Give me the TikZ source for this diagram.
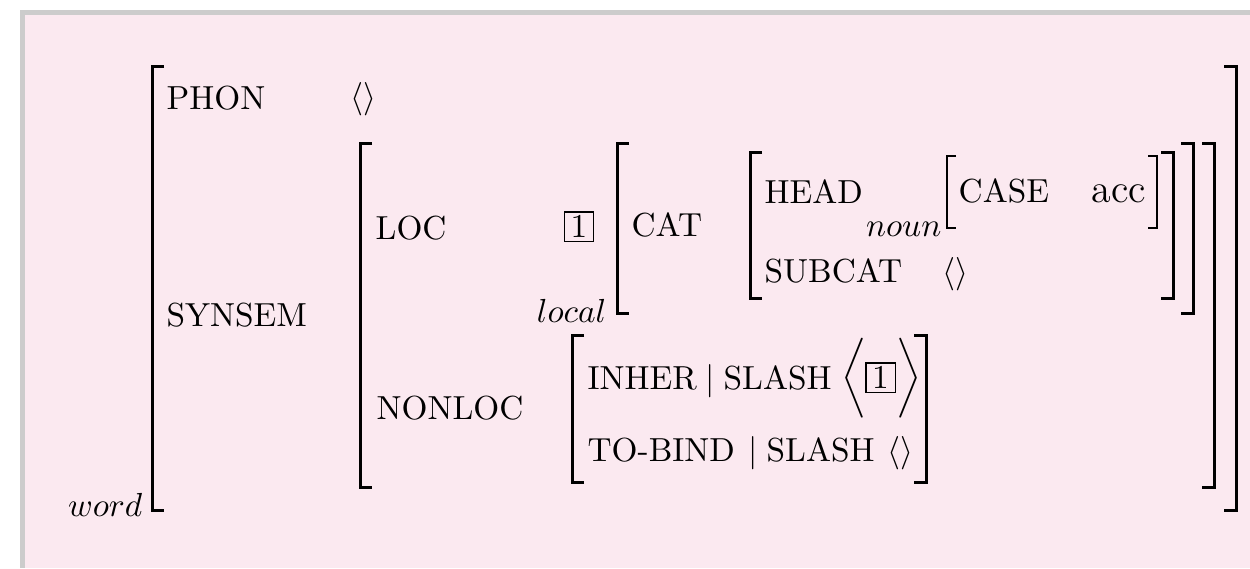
\documentclass[tikz,border=0pt]{standalone}
\usepackage{amsmath}
\usepackage{amssymb}
\usepackage{tikz}

\definecolor{framegray}{RGB}{204,204,204}
\definecolor{boxpink}{RGB}{251,233,240}

\begin{document}
\begin{tikzpicture}[x=0.3pt,y=-0.3pt,
      brk/.style={line width=0.9pt},
      thinbrk/.style={line width=0.55pt},
      attr/.style={anchor=base west,inner sep=0pt},
      sort/.style={anchor=base east,inner sep=0pt},
      tag/.style={draw,line width=0.4pt,minimum size=8.8pt,inner sep=0pt}]
      \useasboundingbox (0,0) rectangle (1250,568);
      \fill[white] (0,0) rectangle (1250,568);
      \fill[framegray] (20,10) rectangle (1250,568);
      \fill[boxpink] (25,15) rectangle (1250,568);

      % word
      \draw[brk] (164,66) -| (152,510) -- (164,510);
      \draw[brk] (1224,66) -| (1236,510) -- (1224,510);
      \node[sort] (word) at (143,516) {$word$};
      \node[attr] (phon) at (166,109) {PHON};
      \node[anchor=west,inner sep=0pt] (phonval) at (350,99) {$\langle\rangle$};
      \node[attr] (synsem) at (166,326) {SYNSEM};

      % synsem
      \draw[brk] (372,143) -| (360,487) -- (372,487);
      \draw[brk] (1202,143) -| (1214,487) -- (1202,487);
      \node[attr] (loc) at (375,239) {LOC};
      \node[attr] (nonloc) at (376,419) {NONLOC};

      % local
      \node[tag] (tag1) at (579,226.5) {1};
      \node[sort] (local) at (607,322) {$local$};
      \draw[brk] (629,143) -| (617,313) -- (629,313);
      \draw[brk] (1181,143) -| (1193,313) -- (1181,313);
      \node[attr] (cat) at (631,236) {CAT};

      % cat
      \draw[brk] (762,152) -| (750,298) -- (762,298);
      \draw[brk] (1161,152) -| (1173,298) -- (1161,298);
      \node[attr] (head) at (764,203) {HEAD};
      \node[attr] (subcat) at (764,282) {SUBCAT};
      \node[attr] (subcatval) at (942,282) {$\langle\rangle$};

      % noun
      \node[sort] (noun) at (942,236) {$noun$};
      \draw[thinbrk] (956,156) -| (947,228) -- (956,228);
      \draw[thinbrk] (1148,156) -| (1157,228) -- (1148,228);
      \node[attr] (case) at (958,202) {CASE};
      \node[attr] (acc) at (1091,202) {\large acc};

      % nonloc
      \draw[brk] (584,335) -| (572,482) -- (584,482);
      \draw[brk] (914,335) -| (926,482) -- (914,482);
      \node[attr] (inher) at (587,389) {INHER};
      \node[anchor=base,inner sep=0pt] (bar1) at (710.5,389) {$|$};
      \node[attr] (slash1) at (723,389) {SLASH};
      \node[inner sep=0pt] (lang) at (854,378.5) {$\bigg\langle$};
      \node[tag] (tag2) at (880.5,377.5) {1};
      \node[inner sep=0pt] (rang) at (908.5,378.5) {$\bigg\rangle$};
      \node[attr] (tobind) at (587,461) {TO-BIND};
      \node[anchor=base,inner sep=0pt] (bar2) at (753,461) {$|$};
      \node[attr] (slash2) at (766,461) {SLASH};
      \node[attr] (slashval) at (887,461) {$\langle\rangle$};
\end{tikzpicture}
\end{document}
